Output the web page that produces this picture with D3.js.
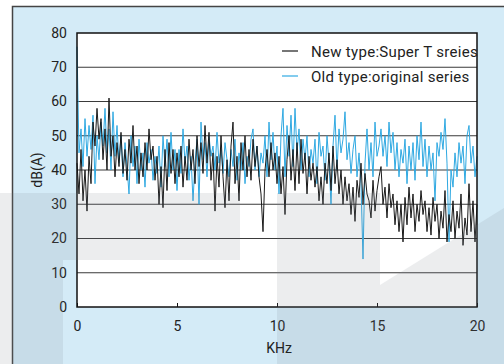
<!DOCTYPE html>
<html>
<head>
<meta charset="utf-8">
<script src="https://cdn.jsdelivr.net/npm/d3@7"></script>
<style>
  body { margin: 0; background: #fff; }
  text { font-family: Roboto, "DejaVu Sans", sans-serif; fill: #222; }
</style>
</head>
<body>
<div id="container"></div>
<script>
// frequency step 0.1 kHz, 0..20 kHz
let freqStep = 0.1;
let newType = [42,33,46,31,40,28,44,36,54,47,58,49,55,43,52,40,61,44,50,38,
  48,41,51,39,46,37,49,42,53,40,47,36,45,38,48,40,52,43,47,37,
  44,30,41,29,46,34,48,39,46,36,45,38,47,35,44,37,49,40,46,36,
  50,41,48,39,53,42,51,37,45,28,44,35,50,38,29,43,31,47,54,36,
  44,31,48,40,50,38,46,37,49,41,47,38,33,22,40,46,38,48,40,45,
  36,44,33,41,27,43,50,37,46,34,48,36,49,39,45,33,44,37,42,35,
  41,31,38,30,42,36,45,34,47,36,43,33,40,30,38,31,36,27,35,25,
  37,32,42,30,39,33,31,26,37,28,34,38,41,30,35,26,36,29,33,24,
  31,22,30,19,32,24,35,26,33,22,30,25,34,27,31,22,29,21,32,25,
  30,20,28,23,34,19,27,22,31,20,28,23,33,18,26,21,36,22,31,19,30];
let oldType = [76,45,52,41,55,44,53,46,56,36,50,43,54,47,58,45,52,40,57,44,
  53,42,50,38,48,41,33,50,41,47,36,49,40,45,35,48,42,46,37,44,
  39,47,35,50,41,49,38,51,40,46,34,46,39,52,42,47,37,44,31,42,
  49,30,54,43,48,38,50,44,47,40,51,42,46,39,48,43,38,46,41,49,
  37,45,40,48,36,44,41,49,52,40,47,38,45,42,50,38,54,43,51,40,
  47,33,50,58,38,53,44,56,41,58,45,52,40,49,43,50,38,46,42,49,
  36,51,44,47,37,50,42,30,47,56,40,52,45,49,57,43,48,39,46,50,
  38,45,36,14,42,52,40,48,38,54,44,47,52,44,50,41,54,45,51,40,
  48,38,46,42,49,36,47,40,48,37,50,43,54,41,49,38,47,40,45,31,
  48,44,51,46,55,42,19,40,35,45,38,48,42,47,36,50,53,42,47,38,44];
let yTicks = [0,10,20,30,40,50,60,70,80];
let xTicks = [0,5,10,15,20];
let seriesNames = ['New type:Super T sreies', 'Old type:original series'];
let seriesColors = ['#1a1a1a', '#2fa9e2'];

let width = 504, height = 364;
let plotLeft = 77, plotTop = 33, plotW = 400, plotH = 274;

let svg = d3.select('#container').append('svg')
  .attr('width', width).attr('height', height);

// panel
svg.append('rect').attr('x', 12).attr('y', 6).attr('width', width - 12).attr('height', height - 6)
  .attr('fill', '#d4ebf7');
svg.append('path').attr('d', 'M12.5,' + height + 'V6.5H' + width)
  .attr('fill', 'none').attr('stroke', '#444').attr('stroke-width', 1.5);

let plot = svg.append('g').attr('transform', 'translate(' + plotLeft + ',' + plotTop + ')');
plot.append('rect').attr('width', plotW).attr('height', plotH).attr('fill', '#fff');

// faint watermark shapes
let wm = svg.append('g').attr('fill', '#7c8590').attr('opacity', 0.14);
wm.append('rect').attr('x', 0).attr('y', 193).attr('width', 240).attr('height', 67);
wm.append('rect').attr('x', 0).attr('y', 260).attr('width', 63).attr('height', 104);
wm.append('rect').attr('x', 277).attr('y', 193).attr('width', 103).attr('height', 171);
wm.append('polygon').attr('points', '380,285 504,208 504,364 380,364');

let x = d3.scaleLinear().domain([0, 20]).range([0, plotW]);
let y = d3.scaleLinear().domain([0, 80]).range([plotH, 0]);

// grid
plot.selectAll('.grid').data(yTicks.filter(d => d > 0 && d < 80)).enter()
  .append('line').attr('class', 'grid')
  .attr('x1', 0).attr('x2', plotW)
  .attr('y1', d => y(d)).attr('y2', d => y(d))
  .attr('stroke', '#3a3a3a').attr('stroke-width', 1.2);

let line = d3.line()
  .x((d, i) => x(i * freqStep))
  .y(d => y(d));

plot.append('path').datum(oldType)
  .attr('fill', 'none').attr('stroke', seriesColors[1]).attr('stroke-width', 1)
  .attr('stroke-linejoin', 'round').attr('d', line);
plot.append('path').datum(newType)
  .attr('fill', 'none').attr('stroke', seriesColors[0]).attr('stroke-width', 1)
  .attr('stroke-linejoin', 'round').attr('d', line);

// frame
plot.append('rect').attr('width', plotW).attr('height', plotH)
  .attr('fill', 'none').attr('stroke', '#111').attr('stroke-width', 1.5);

// x axis ticks + labels
let xAxis = d3.axisBottom(x).tickValues(xTicks).tickSizeInner(-4).tickSizeOuter(0).tickPadding(14);
let xg = plot.append('g').attr('transform', 'translate(0,' + plotH + ')').call(xAxis);
xg.select('.domain').remove();
xg.selectAll('.tick line').attr('stroke', '#111');
xg.selectAll('text').attr('font-size', 14).attr('font-family', null).attr('fill', '#222');

let yAxis = d3.axisLeft(y).tickValues(yTicks).tickSize(0).tickPadding(10);
let yg = plot.append('g').call(yAxis);
yg.select('.domain').remove();
yg.selectAll('text').attr('font-size', 14).attr('font-family', null).attr('fill', '#222');

svg.append('text').attr('x', 279).attr('y', 353).attr('text-anchor', 'middle')
  .attr('font-size', 14).text('KHz');
svg.append('text').attr('transform', 'translate(42,170) rotate(-90)').attr('text-anchor', 'middle')
  .attr('font-size', 14).text('dB(A)');

// legend
let legend = svg.selectAll('.legend').data(seriesNames).enter()
  .append('g').attr('class', 'legend')
  .attr('transform', (d, i) => 'translate(282,' + (51 + i * 25) + ')');
legend.append('line').attr('x1', 0).attr('x2', 16)
  .attr('stroke', (d, i) => seriesColors[i]).attr('stroke-width', 1.2);
legend.append('text').attr('x', 29).attr('y', 5.5).attr('font-size', 15)
  .attr('letter-spacing', 0.3).text(d => d);
</script>
</body>
</html>
